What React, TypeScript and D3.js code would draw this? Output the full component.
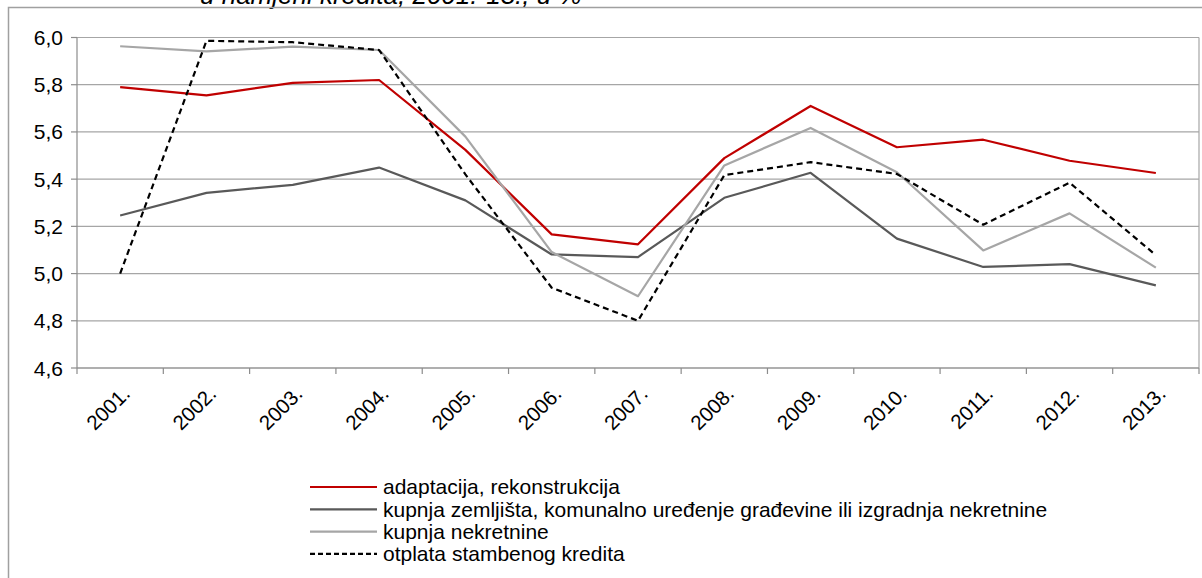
import React from "react";
import * as d3 from "d3";

const years = ["2001.", "2002.", "2003.", "2004.", "2005.", "2006.", "2007.", "2008.", "2009.", "2010.", "2011.", "2012.", "2013."];
const adaptacija = [5.79, 5.755, 5.808, 5.82, 5.524, 5.166, 5.124, 5.489, 5.71, 5.535, 5.567, 5.478, 5.426];
const zemljista = [5.246, 5.342, 5.376, 5.449, 5.31, 5.081, 5.07, 5.321, 5.427, 5.148, 5.028, 5.04, 4.95];
const nekretnine = [5.963, 5.941, 5.961, 5.947, 5.58, 5.091, 4.904, 5.458, 5.617, 5.429, 5.098, 5.255, 5.025];
const otplata = [5.0, 5.986, 5.98, 5.947, 5.42, 4.94, 4.8, 5.417, 5.472, 5.422, 5.207, 5.385, 5.078];
const yTicks = [4.6, 4.8, 5.0, 5.2, 5.4, 5.6, 5.8, 6.0];
const seriesNames = [
  "adaptacija, rekonstrukcija",
  "kupnja zemljišta, komunalno uređenje građevine ili izgradnja nekretnine",
  "kupnja nekretnine",
  "otplata stambenog kredita",
];
const titleText = "u namjeni kredita, 2001.-13., u %";

const W = 1202;
const H = 578;
const left = 77;
const right = 1199;
const top = 37.5;
const bottom = 368;
const font = "'Liberation Sans', Arial, sans-serif";

const series = [
  { name: seriesNames[0], values: adaptacija, color: "#C00000", dash: undefined, width: 2.2 },
  { name: seriesNames[1], values: zemljista, color: "#595959", dash: undefined, width: 2.2 },
  { name: seriesNames[2], values: nekretnine, color: "#A6A6A6", dash: undefined, width: 2.2 },
  { name: seriesNames[3], values: otplata, color: "#000000", dash: "6,4", width: 2.2 },
];

export default function App() {
  const x = d3.scaleBand<string>().domain(years).range([left, right]).paddingInner(0).paddingOuter(0);
  const y = d3.scaleLinear().domain([4.6, 6.0]).range([bottom, top]);
  const cx = (yr: string) => (x(yr) as number) + x.bandwidth() / 2;
  const line = d3
    .line<number>()
    .x((_, i) => cx(years[i]))
    .y((v) => y(v));
  const fmt = (v: number) => v.toFixed(1).replace(".", ",");
  const tickXs = years.map((yr) => x(yr) as number).concat([right]);

  return (
    <svg
      width={W}
      height={H}
      style={{ position: "absolute", left: 0, top: 0, background: "#fff" }}
      fontFamily={font}
    >
      <rect x={0} y={0} width={W} height={H} fill="#fff" />
      {/* title (clipped at top, as in the reference) */}
      <text x={200} y={4} fontSize={26} fontStyle="italic" fill="#000">
        {titleText}
      </text>
      {/* outer border */}
      <path d={`M8.5,${H} V7.5 H${W}`} fill="none" stroke="#A0A0A0" strokeWidth={1.5} />
      {/* gridlines */}
      {yTicks.map((t) => (
        <line key={"g" + t} x1={left} x2={right} y1={y(t)} y2={y(t)} stroke="#A6A6A6" strokeWidth={1.2} />
      ))}
      {/* plot right border */}
      <line x1={right} x2={right} y1={top} y2={bottom} stroke="#A6A6A6" strokeWidth={1.2} />
      {/* y axis */}
      <line x1={left} x2={left} y1={top} y2={bottom} stroke="#8C8C8C" strokeWidth={1.2} />
      {yTicks.map((t) => (
        <g key={"yt" + t}>
          <line x1={left - 6} x2={left} y1={y(t)} y2={y(t)} stroke="#8C8C8C" strokeWidth={1.2} />
          <text x={63} y={y(t)} dy="0.36em" textAnchor="end" fontSize={21} fill="#000">
            {fmt(t)}
          </text>
        </g>
      ))}
      {/* x axis */}
      <line x1={left} x2={right} y1={bottom} y2={bottom} stroke="#8C8C8C" strokeWidth={1.2} />
      {tickXs.map((tx, i) => (
        <line key={"xt" + i} x1={tx} x2={tx} y1={bottom} y2={bottom + 6} stroke="#8C8C8C" strokeWidth={1.2} />
      ))}
      {years.map((yr) => (
        <text
          key={"xl" + yr}
          transform={`translate(${cx(yr) + 6},${bottom + 22}) rotate(-45)`}
          textAnchor="end"
          dy="0.35em"
          fontSize={20.5}
          fill="#000"
        >
          {yr}
        </text>
      ))}
      {/* series lines */}
      {series.map((s) => (
        <path
          key={s.name}
          d={line(s.values) as string}
          fill="none"
          stroke={s.color}
          strokeWidth={s.width}
          strokeDasharray={s.dash}
          strokeLinejoin="round"
        />
      ))}
      {/* legend */}
      {series.map((s, i) => {
        const ly = 487 + i * 22.3;
        return (
          <g key={"lg" + i}>
            <line x1={310} x2={377} y1={ly} y2={ly} stroke={s.color} strokeWidth={s.width} strokeDasharray={s.dash ? "5,3" : undefined} />
            <text x={383} y={ly} dy="0.35em" fontSize={21} fill="#000">
              {s.name}
            </text>
          </g>
        );
      })}
    </svg>
  );
}
